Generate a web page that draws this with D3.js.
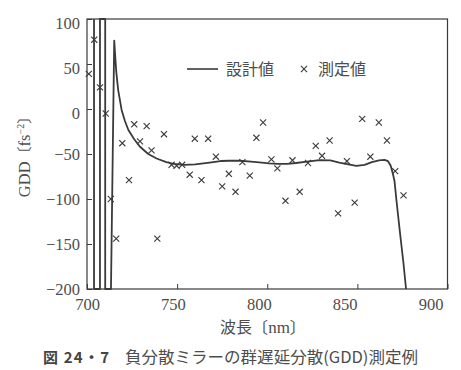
<!DOCTYPE html>
<html>
<head>
<meta charset="utf-8">
<script src="https://cdn.jsdelivr.net/npm/d3@7"></script>
<style>
  body { margin: 0; background: #fff; }
  svg { display: block; }
  .num { font-family: "Liberation Serif", serif; }
</style>
</head>
<body>
<div id="chart"></div>
<script>

// design curve (設計値), nm / fs^2 ; values at -200 / 100 are where the curve leaves the frame
var designNm  = [703.9, 703.9, 707.2, 707.2, 710.1, 710.1, 713.3, 715.1, 716.2, 717.3, 719.2, 721, 722.9, 726, 729.4,
                 734, 738.6, 744, 748, 754, 760, 768, 774, 779, 785, 791, 797, 801, 806, 811, 816, 822, 829, 835, 840,
                 845, 849.4, 854, 858, 862, 865, 867, 868.5, 869.7, 870.6, 871.6, 873.5, 875.5, 877];
var designGdd = [100, -200, -200, 100, 100, -200, -200, 76, 42, 21, -1, -13, -23, -33, -42,
                 -50, -55, -59, -61, -62, -61.5, -59.5, -57.8, -57.5, -57.5, -58.5, -59.5, -60.4, -61, -61, -60, -58.5, -56.7, -57, -59.6,
                 -61.5, -63.3, -62, -59, -57, -56.5, -58, -63, -72, -80, -100, -135, -170, -200];

// measured points (測定値)
var measNm  = [701, 704, 707.2, 710.4, 713.2, 716.2, 719.6, 723.3, 726.2, 729.4, 733.1, 735.8, 739, 742.7, 746.9, 749.7,
               752.8, 757, 759.8, 763.5, 767.2, 771.5, 775, 778.7, 782.4, 786.2, 790.3, 794, 797.7, 802.3, 805.6, 810.1,
               814, 818, 822.6, 826.9, 830.4, 834.6, 839.3, 844.2, 848.5, 852.7, 857.2, 861.9, 866.4, 871, 875.6];
var measGdd = [39, 77, 24, -5, -100, -144, -38, -79, -17, -36, -19, -46, -144, -28, -62, -63,
               -62, -73, -33, -79, -33, -53, -86, -72, -92, -59, -74, -32, -15, -56, -66, -102,
               -57, -92, -60, -41, -52, -35, -116, -58, -104, -11, -53, -15, -35, -69, -96];

var xTicks = [700, 750, 800, 850, 900];
var yTicks = [100, 50, 0, -50, -100, -150, -200];

var W = 461, H = 370;
var plotLeft = 87, plotRight = 447.5, plotTop = 19, plotBottom = 289;
var ink = "#3a3a3a", txt = "#4d4d4d";
var numFont = "Liberation Serif";
var jpFont = "Noto Sans CJK JP";

var svg = d3.select("#chart").append("svg")
  .attr("width", W).attr("height", H);
svg.append("rect").attr("width", W).attr("height", H).attr("fill", "#fff");

var xScale = d3.scaleLinear().domain([700, 900]).range([plotLeft, plotRight]);
var yScale = d3.scaleLinear().domain([-200, 100]).range([plotBottom, plotTop]);

svg.append("clipPath").attr("id", "clip")
  .append("rect").attr("x", plotLeft).attr("y", plotTop - 1)
  .attr("width", plotRight - plotLeft).attr("height", plotBottom - plotTop + 2);

// axes, ticks pointing inwards
var xAxis = svg.append("g")
  .attr("transform", "translate(0," + plotBottom + ")")
  .call(d3.axisBottom(xScale).tickValues(xTicks).tickSize(-5).tickPadding(9));
var yAxis = svg.append("g")
  .attr("transform", "translate(" + plotLeft + ",0)")
  .call(d3.axisLeft(yScale).tickValues(yTicks).tickSize(-5).tickPadding(7)
    .tickFormat(function(d){ return d < 0 ? "\u2212" + Math.abs(d) : d; }));

[xAxis, yAxis].forEach(function(ax){
  ax.attr("font-family", numFont).attr("font-size", 16.5);
  ax.select(".domain").remove();
  ax.selectAll("line").attr("stroke", ink).attr("stroke-width", 1);
  ax.selectAll("text").attr("class", "num").attr("fill", txt);
});
// the printed tick labels drift a little left of their ticks
xAxis.selectAll("text").attr("x", function(d){ return -(d - 700) * 0.085; });
yAxis.selectAll("text").attr("dy", function(d){ return d >= 0 ? "0.6em" : "0.33em"; });

// frame
svg.append("rect")
  .attr("x", plotLeft).attr("y", plotTop)
  .attr("width", plotRight - plotLeft).attr("height", plotBottom - plotTop)
  .attr("fill", "none").attr("stroke", ink).attr("stroke-width", 1.2);

// design curve
var designData = designNm.map(function(d, i){ return {x: d, y: designGdd[i]}; });
var line = d3.line()
  .x(function(d){ return xScale(d.x); })
  .y(function(d){ return yScale(d.y); });
svg.append("path")
  .datum(designData)
  .attr("clip-path", "url(#clip)")
  .attr("d", line)
  .attr("fill", "none").attr("stroke", ink).attr("stroke-width", 1.8)
  .attr("stroke-linejoin", "round");

// measured crosses
var measData = measNm.map(function(d, i){ return {x: d, y: measGdd[i]}; });
var cross = d3.symbol().type(d3.symbolTimes).size(26);
svg.append("g").selectAll("path")
  .data(measData)
  .enter().append("path")
  .attr("transform", function(d){ return "translate(" + xScale(d.x) + "," + yScale(d.y) + ")"; })
  .attr("d", cross)
  .attr("fill", "none").attr("stroke", ink).attr("stroke-width", 1.1);

// legend
var lg = svg.append("g");
lg.append("line").attr("x1", 187).attr("x2", 218).attr("y1", 69).attr("y2", 69)
  .attr("stroke", ink).attr("stroke-width", 1.6);
lg.append("text").attr("x", 226).attr("y", 75).text("設計値")
  .attr("fill", txt).attr("font-family", jpFont).attr("font-size", 16);
lg.append("path").attr("transform", "translate(304,69)").attr("d", cross)
  .attr("fill", "none").attr("stroke", ink).attr("stroke-width", 1.1);
lg.append("text").attr("x", 318).attr("y", 75).text("測定値")
  .attr("fill", txt).attr("font-family", jpFont).attr("font-size", 16);

// axis titles
var yt = svg.append("text")
  .attr("transform", "translate(30,153) rotate(-90)")
  .attr("text-anchor", "middle")
  .attr("fill", txt).attr("font-family", numFont).attr("font-size", 16.5);
yt.append("tspan").text("GDD");
yt.append("tspan").attr("font-family", jpFont).attr("font-size", 15).text("〔");
yt.append("tspan").text("fs");
yt.append("tspan").attr("dy", -6).attr("font-size", 10).text("\u22122");
yt.append("tspan").attr("dy", 6).attr("font-family", jpFont).attr("font-size", 15).text("〕");

var xt = svg.append("text")
  .attr("x", 263).attr("y", 333)
  .attr("text-anchor", "middle")
  .attr("fill", txt).attr("font-family", jpFont).attr("font-size", 16);
xt.append("tspan").text("波長〔");
xt.append("tspan").attr("font-family", numFont).attr("font-size", 17).text("nm");
xt.append("tspan").text("〕");

// caption
svg.append("text").attr("x", 43).attr("y", 363)
  .attr("textLength", 66).attr("lengthAdjust", "spacing")
  .attr("fill", "#444").attr("font-family", jpFont).attr("font-size", 15).attr("font-weight", "bold")
  .text("図 24・7");
svg.append("text").attr("x", 125).attr("y", 363)
  .attr("textLength", 293).attr("lengthAdjust", "spacingAndGlyphs")
  .attr("fill", txt).attr("font-family", jpFont).attr("font-size", 16)
  .text("負分散ミラーの群遅延分散(GDD)測定例");

</script>
</body>
</html>
